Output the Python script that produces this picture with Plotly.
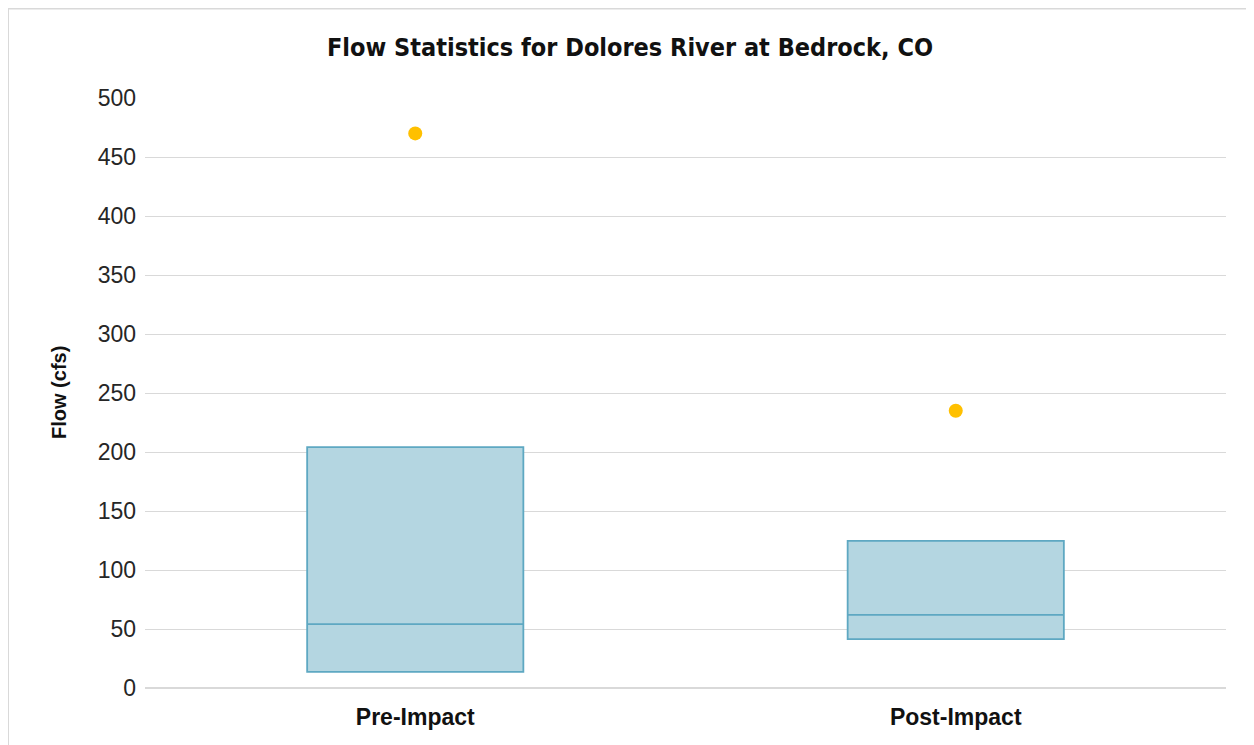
import plotly.graph_objects as go

categories = ["Pre-Impact", "Post-Impact"]
q1_vals = [13.6, 41.5]
median_vals = [54.2, 61.9]
q3_vals = [204.2, 124.6]
mean_vals = [470.0, 235.0]
y_ticks = [0, 50, 100, 150, 200, 250, 300, 350, 400, 450, 500]

fig = go.Figure()
fig.add_trace(go.Box(
    x=categories,
    q1=q1_vals, median=median_vals, q3=q3_vals,
    lowerfence=q1_vals, upperfence=q3_vals,
    boxpoints=False, whiskerwidth=0, width=0.4,
    fillcolor="#b4d6e1", line=dict(color="#5ea8c2", width=1.8),
    showlegend=False, hoverinfo="skip",
))
fig.add_trace(go.Scatter(
    x=categories, y=mean_vals, mode="markers",
    marker=dict(color="#ffc000", size=14),
    showlegend=False, hoverinfo="skip",
))

# page body offsets the figure by 8px; positions below are in figure coords
OFF = 8
W, H = 1254, 745
L, T = 145 - OFF, 98 - OFF
R = W - (1226 - OFF)
B = H - (688 - OFF)
pw, ph = W - L - R, H - T - B

def px_x(p):
    return (p - L) / pw

def px_y(p):
    return (H - B - p) / ph

fig.update_layout(
    width=W, height=H,
    margin=dict(l=L, r=R, t=T, b=B),
    paper_bgcolor="white", plot_bgcolor="white",
    font=dict(family="Liberation Sans, Arial, sans-serif", color="#262626"),
    title=dict(
        text="Flow Statistics for Dolores River at Bedrock, CO",
        xref="container", yref="container", x=(630 - OFF) / W, y=1 - (47 - OFF) / H,
        xanchor="center", yanchor="middle",
        font=dict(family="Liberation Sans Narrow, DejaVu Sans Condensed, Arial Narrow, sans-serif",
                  size=25, color="#111111", weight="bold"),
    ),
    xaxis=dict(
        type="category", range=[-0.5, 1.5], showgrid=False, zeroline=False,
        showline=False, ticks="",
        tickfont=dict(size=23, color="#111111", weight="bold"),
        ticklabelstandoff=13,
    ),
    yaxis=dict(
        range=[0, 500], tickvals=y_ticks, showgrid=True, gridcolor="#d9d9d9",
        gridwidth=1, zeroline=True, zerolinecolor="#d9d9d9", zerolinewidth=1.5,
        showline=False, ticks="",
        tickfont=dict(size=23, color="#262626"),
        ticklabelstandoff=8,
    ),
    annotations=[dict(
        text="Flow (cfs)", xref="paper", yref="paper",
        x=px_x(59 - OFF), y=0.5, textangle=-90, showarrow=False,
        xanchor="center", yanchor="middle",
        font=dict(size=20, color="#111111", weight="bold"),
    )],
    shapes=[
        dict(type="line", xref="paper", yref="paper",
             x0=px_x(0), x1=px_x(W + 5), y0=px_y(0.5), y1=px_y(0.5),
             line=dict(color="#d9d9d9", width=2)),
        dict(type="line", xref="paper", yref="paper",
             x0=px_x(0), x1=px_x(0), y0=px_y(0), y1=px_y(H + 5),
             line=dict(color="#d9d9d9", width=2)),
    ],
)

fig.write_html("out.html")
